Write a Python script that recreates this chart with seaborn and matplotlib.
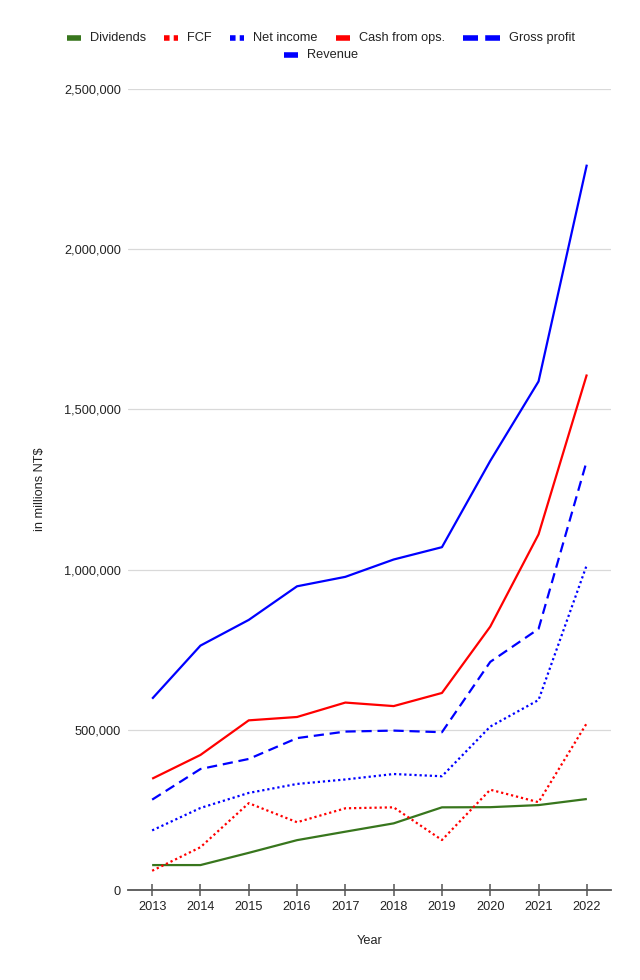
import matplotlib
matplotlib.use("Agg")
import matplotlib.pyplot as plt
from matplotlib.lines import Line2D
import seaborn as sns
import pandas as pd

years = [2013, 2014, 2015, 2016, 2017, 2018, 2019, 2020, 2021, 2022]
dividends = [77800, 77800, 116000, 155600, 182000, 208000, 258000, 258500, 265000, 284000]
fcf = [60000, 133500, 271000, 211500, 255000, 258000, 156000, 313000, 274000, 521000]
net_income = [186000, 256000, 303000, 331000, 345000, 362000, 355000, 510000, 593000, 1015000]
cash_ops = [347400, 421500, 529500, 540000, 585000, 574000, 615000, 822000, 1110000, 1609000]
gross_profit = [282000, 377600, 409000, 474000, 494500, 497500, 492500, 712000, 815000, 1340000]
revenue = [597000, 762800, 843000, 947900, 977400, 1031500, 1070000, 1339300, 1587400, 2263900]

series_names = ["Dividends", "FCF", "Net income", "Cash from ops.", "Gross profit", "Revenue"]
series_values = [dividends, fcf, net_income, cash_ops, gross_profit, revenue]
y_ticks = [0, 500000, 1000000, 1500000, 2000000, 2500000]

GREEN = "#38761d"
RED = "#ff0000"
BLUE = "#0000ff"
colors = [GREEN, RED, BLUE, RED, BLUE, BLUE]
DOT = (0, (1.0, 1.3))
DASH = (0, (4.6, 2.6))
styles = ["-", DOT, DOT, "-", DASH, "-"]

sns.set_theme(style="white")
plt.rcParams["font.family"] = ["Liberation Sans", "DejaVu Sans"]

W, H = 640, 980
fig = plt.figure(figsize=(W / 100, H / 100), dpi=100)
ax = fig.add_axes([128 / W, 1 - 890 / H, (611 - 128) / W, (890 - 89) / H])

df = pd.DataFrame({"Year": years})
for name, vals in zip(series_names, series_values):
    df[name] = vals
long = df.melt(id_vars="Year", var_name="Series", value_name="Value")

for name, col, ls in zip(series_names, colors, styles):
    sub = long[long["Series"] == name]
    sns.lineplot(data=sub, x="Year", y="Value", ax=ax, color=col, lw=1.6,
                 legend=False, zorder=3)
    ax.lines[-1].set_linestyle(ls)
    ax.lines[-1].set_solid_capstyle("butt")

ax.set_xlim(2012.5, 2022.5)
ax.set_ylim(0, 2500000)
ax.set_xticks(years)
ax.set_xticklabels([str(y) for y in years])
ax.set_yticks(y_ticks)
ax.set_yticklabels([f"{v:,}" for v in y_ticks])
ax.grid(axis="y", color="#d9d9d9", lw=0.9, zorder=0)
ax.grid(axis="x", visible=False)
for s in ["left", "right", "top"]:
    ax.spines[s].set_visible(False)
ax.spines["bottom"].set_color("#555555")
ax.spines["bottom"].set_linewidth(1.3)
ax.spines["bottom"].set_zorder(4)
ax.tick_params(axis="x", direction="inout", length=9, width=1.1, color="#555555",
               labelsize=9.2, labelcolor="#222222", pad=3.5, bottom=True)
ax.tick_params(axis="y", length=0, labelsize=9.2, labelcolor="#222222", pad=5)
ax.set_xlabel("Year", fontsize=9.2, color="#222222", labelpad=16)
ax.set_ylabel("in millions NT$", fontsize=9.2, color="#222222", labelpad=13)

# legend (two centered rows)
renderer = fig.canvas.get_renderer()
rows = [[0, 1, 2, 3, 4], [5]]
row_y = [38, 55]
for row, yy in zip(rows, row_y):
    items = []
    for i in row:
        t = fig.text(0, 1 - yy / H, series_names[i], fontsize=9.2, color="#222222",
                     va="center", ha="left")
        tw = t.get_window_extent(renderer).width
        hw = 37 if styles[i] == DASH else 14
        items.append((i, t, tw, hw))
    gap_ht, gap_item = 9, 18
    total = sum(hw + gap_ht + tw for _, _, tw, hw in items) + gap_item * (len(items) - 1)
    x = 321 - total / 2
    for i, t, tw, hw in items:
        if styles[i] == DOT:
            ls = (0, (1.0, 0.75))
        elif styles[i] == DASH:
            ls = (0, (2.7, 1.3))
        else:
            ls = "-"
        ln = Line2D([x / W, (x + hw) / W], [1 - yy / H, 1 - yy / H],
                    transform=fig.transFigure, color=colors[i], lw=4, linestyle=ls,
                    solid_capstyle="butt", dash_capstyle="butt")
        fig.add_artist(ln)
        t.set_x((x + hw + gap_ht) / W)
        x += hw + gap_ht + tw + gap_item

fig.savefig("out.png", dpi=100, facecolor="white")
